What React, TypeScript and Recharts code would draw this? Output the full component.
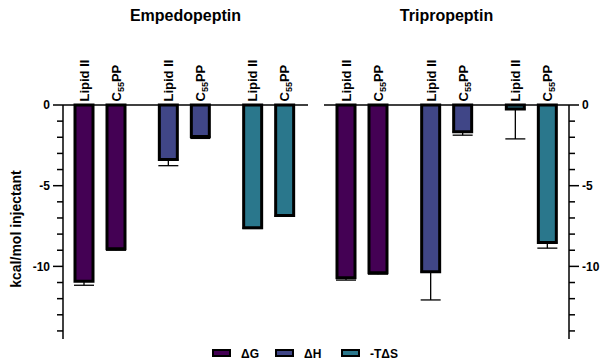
import React from 'react';
import { BarChart, Bar, XAxis, YAxis, ErrorBar, Cell } from 'recharts';

const FONT = '"Liberation Sans", Arial, Helvetica, sans-serif';

const categories = ['ΔG', 'ΔH', '-TΔS'];
const colors = ['#440154', '#404687', '#2A778C'];
const substrateLabels = ['Lipid II', 'C55PP'];
const panelTitles = ['Empedopeptin', 'Tripropeptin'];
const yAxisTitle = 'kcal/mol injectant';

const empedopeptinLipidII = [-10.92, -3.38, -7.6];
const empedopeptinLipidIIErr = [0.25, 0.38, 0.05];
const empedopeptinC55PP = [-8.9, -1.95, -6.85];
const empedopeptinC55PPErr = [0.1, 0.12, 0.05];

const tripropeptinLipidII = [-10.7, -10.33, -0.25];
const tripropeptinLipidIIErr = [0.15, 1.75, 1.85];
const tripropeptinC55PP = [-10.4, -1.65, -8.52];
const tripropeptinC55PPErr = [0.08, 0.22, 0.35];

const yTicks = [0, -1, -2, -3, -4, -5, -6, -7, -8, -9, -10, -11, -12, -13, -14];
const yDomain: [number, number] = [-14.5, 0];

const buildRows = (lipid: number[], lipidErr: number[], c55: number[], c55Err: number[]) =>
  categories.map((c, i) => ({
    category: c,
    lipid: lipid[i],
    lipidErr: [lipidErr[i], 0],
    c55: c55[i],
    c55Err: [c55Err[i], 0],
  }));

const empedoRows = buildRows(empedopeptinLipidII, empedopeptinLipidIIErr, empedopeptinC55PP, empedopeptinC55PPErr);
const triproRows = buildRows(tripropeptinLipidII, tripropeptinLipidIIErr, tripropeptinC55PP, tripropeptinC55PPErr);

const TopTick = (props: any) => {
  const { x, y } = props;
  return (
    <g>
      {[-16, 16].map((dx, i) => (
        <text
          key={i}
          transform={`translate(${x + dx + 4.5},${y - 3.5}) rotate(-90)`}
          fontSize={13}
          fontWeight="bold"
          fontFamily={FONT}
          textAnchor="start"
          fill="#000"
        >
          {i === 0 ? (
            substrateLabels[0]
          ) : (
            <>
              C<tspan fontSize={9} dy={3} fill="#000">55</tspan>
              <tspan dy={-3} fill="#000">PP</tspan>
            </>
          )}
        </text>
      ))}
    </g>
  );
};

const makeYTick = (side: 'left' | 'right') => (props: any) => {
  const { x, y, payload } = props;
  const v = payload.value;
  const major = v % 5 === 0;
  const len = major ? 10 : 6;
  const dir = side === 'left' ? -1 : 1;
  return (
    <g>
      <line x1={x} x2={x + dir * len} y1={y} y2={y} stroke="#000" strokeWidth={1.5} />
      {major && (
        <text
          x={x + dir * (len + 3)}
          y={y}
          dy="0.36em"
          textAnchor={side === 'left' ? 'end' : 'start'}
          fontSize={12}
          fontWeight="bold"
          fontFamily={FONT}
          fill="#000"
        >
          {String(v)}
        </text>
      )}
    </g>
  );
};

const LeftTick = makeYTick('left');
const RightTick = makeYTick('right');

const bars = (rows: any[]) => [
  <Bar key="lipid" dataKey="lipid" barSize={18} stroke="#000" strokeWidth={3} isAnimationActive={false}>
    {rows.map((_, i) => (
      <Cell key={i} fill={colors[i]} />
    ))}
    <ErrorBar dataKey="lipidErr" width={10} stroke="#000" strokeWidth={1.3} direction="y" />
  </Bar>,
  <Bar key="c55" dataKey="c55" barSize={18} stroke="#000" strokeWidth={3} isAnimationActive={false}>
    {rows.map((_, i) => (
      <Cell key={i} fill={colors[i]} />
    ))}
    <ErrorBar dataKey="c55Err" width={10} stroke="#000" strokeWidth={1.3} direction="y" />
  </Bar>,
];

export default function App() {
  return (
    <div style={{ position: 'absolute', left: 0, top: 0, width: 603, height: 363, background: '#fff', fontFamily: FONT }}>
      <div style={{ position: 'absolute', left: 0, top: 0 }}>
        <BarChart width={320} height={363} data={empedoRows} margin={{ top: 75, right: 12, bottom: 24, left: 23 }} barGap={14}>
          <XAxis
            dataKey="category"
            orientation="top"
            height={30}
            interval={0}
            tickLine={false}
            tickSize={0}
            tickMargin={0}
            tick={<TopTick />}
            axisLine={{ stroke: '#000', strokeWidth: 1.5 }}
            padding={{ left: -5, right: -3 }}
          />
          <YAxis
            width={40}
            domain={yDomain}
            ticks={yTicks}
            interval={0}
            tickLine={false}
            tickSize={0}
            tickMargin={0}
            tick={<LeftTick />}
            axisLine={{ stroke: '#000', strokeWidth: 1.5 }}
          />
          {bars(empedoRows)}
        </BarChart>
      </div>
      <div style={{ position: 'absolute', left: 310, top: 0 }}>
        <BarChart width={293} height={363} data={triproRows} margin={{ top: 75, right: 0, bottom: 24, left: 14 }} barGap={14}>
          <XAxis
            dataKey="category"
            orientation="top"
            height={30}
            interval={0}
            tickLine={false}
            tickSize={0}
            tickMargin={0}
            tick={<TopTick />}
            axisLine={{ stroke: '#000', strokeWidth: 1.5 }}
            padding={{ left: -4, right: -5 }}
          />
          <YAxis
            orientation="right"
            width={34}
            domain={yDomain}
            ticks={yTicks}
            interval={0}
            tickLine={false}
            tickSize={0}
            tickMargin={0}
            tick={<RightTick />}
            axisLine={{ stroke: '#000', strokeWidth: 1.5 }}
          />
          {bars(triproRows)}
        </BarChart>
      </div>
      <svg width={603} height={363} style={{ position: 'absolute', left: 0, top: 0, pointerEvents: 'none' }}>
        <text x={185.5} y={21} textAnchor="middle" fontSize={16} fontWeight="bold" fontFamily={FONT} fill="#000">
          {panelTitles[0]}
        </text>
        <text x={446.5} y={21} textAnchor="middle" fontSize={16} fontWeight="bold" fontFamily={FONT} fill="#000">
          {panelTitles[1]}
        </text>
        <text
          transform="translate(21,229) rotate(-90)"
          textAnchor="middle"
          fontSize={14}
          fontWeight="bold"
          fontFamily={FONT}
          fill="#000"
        >
          {yAxisTitle}
        </text>
        {categories.map((c, i) => {
          const sx = [213, 276, 342][i];
          return (
            <g key={c}>
              <rect x={sx} y={350} width={17} height={6} fill={colors[i]} stroke="#000" strokeWidth={2} />
              <text x={sx + 28} y={357.5} fontSize={12} fontWeight="bold" fontFamily={FONT} fill="#000">
                {c}
              </text>
            </g>
          );
        })}
      </svg>
    </div>
  );
}
